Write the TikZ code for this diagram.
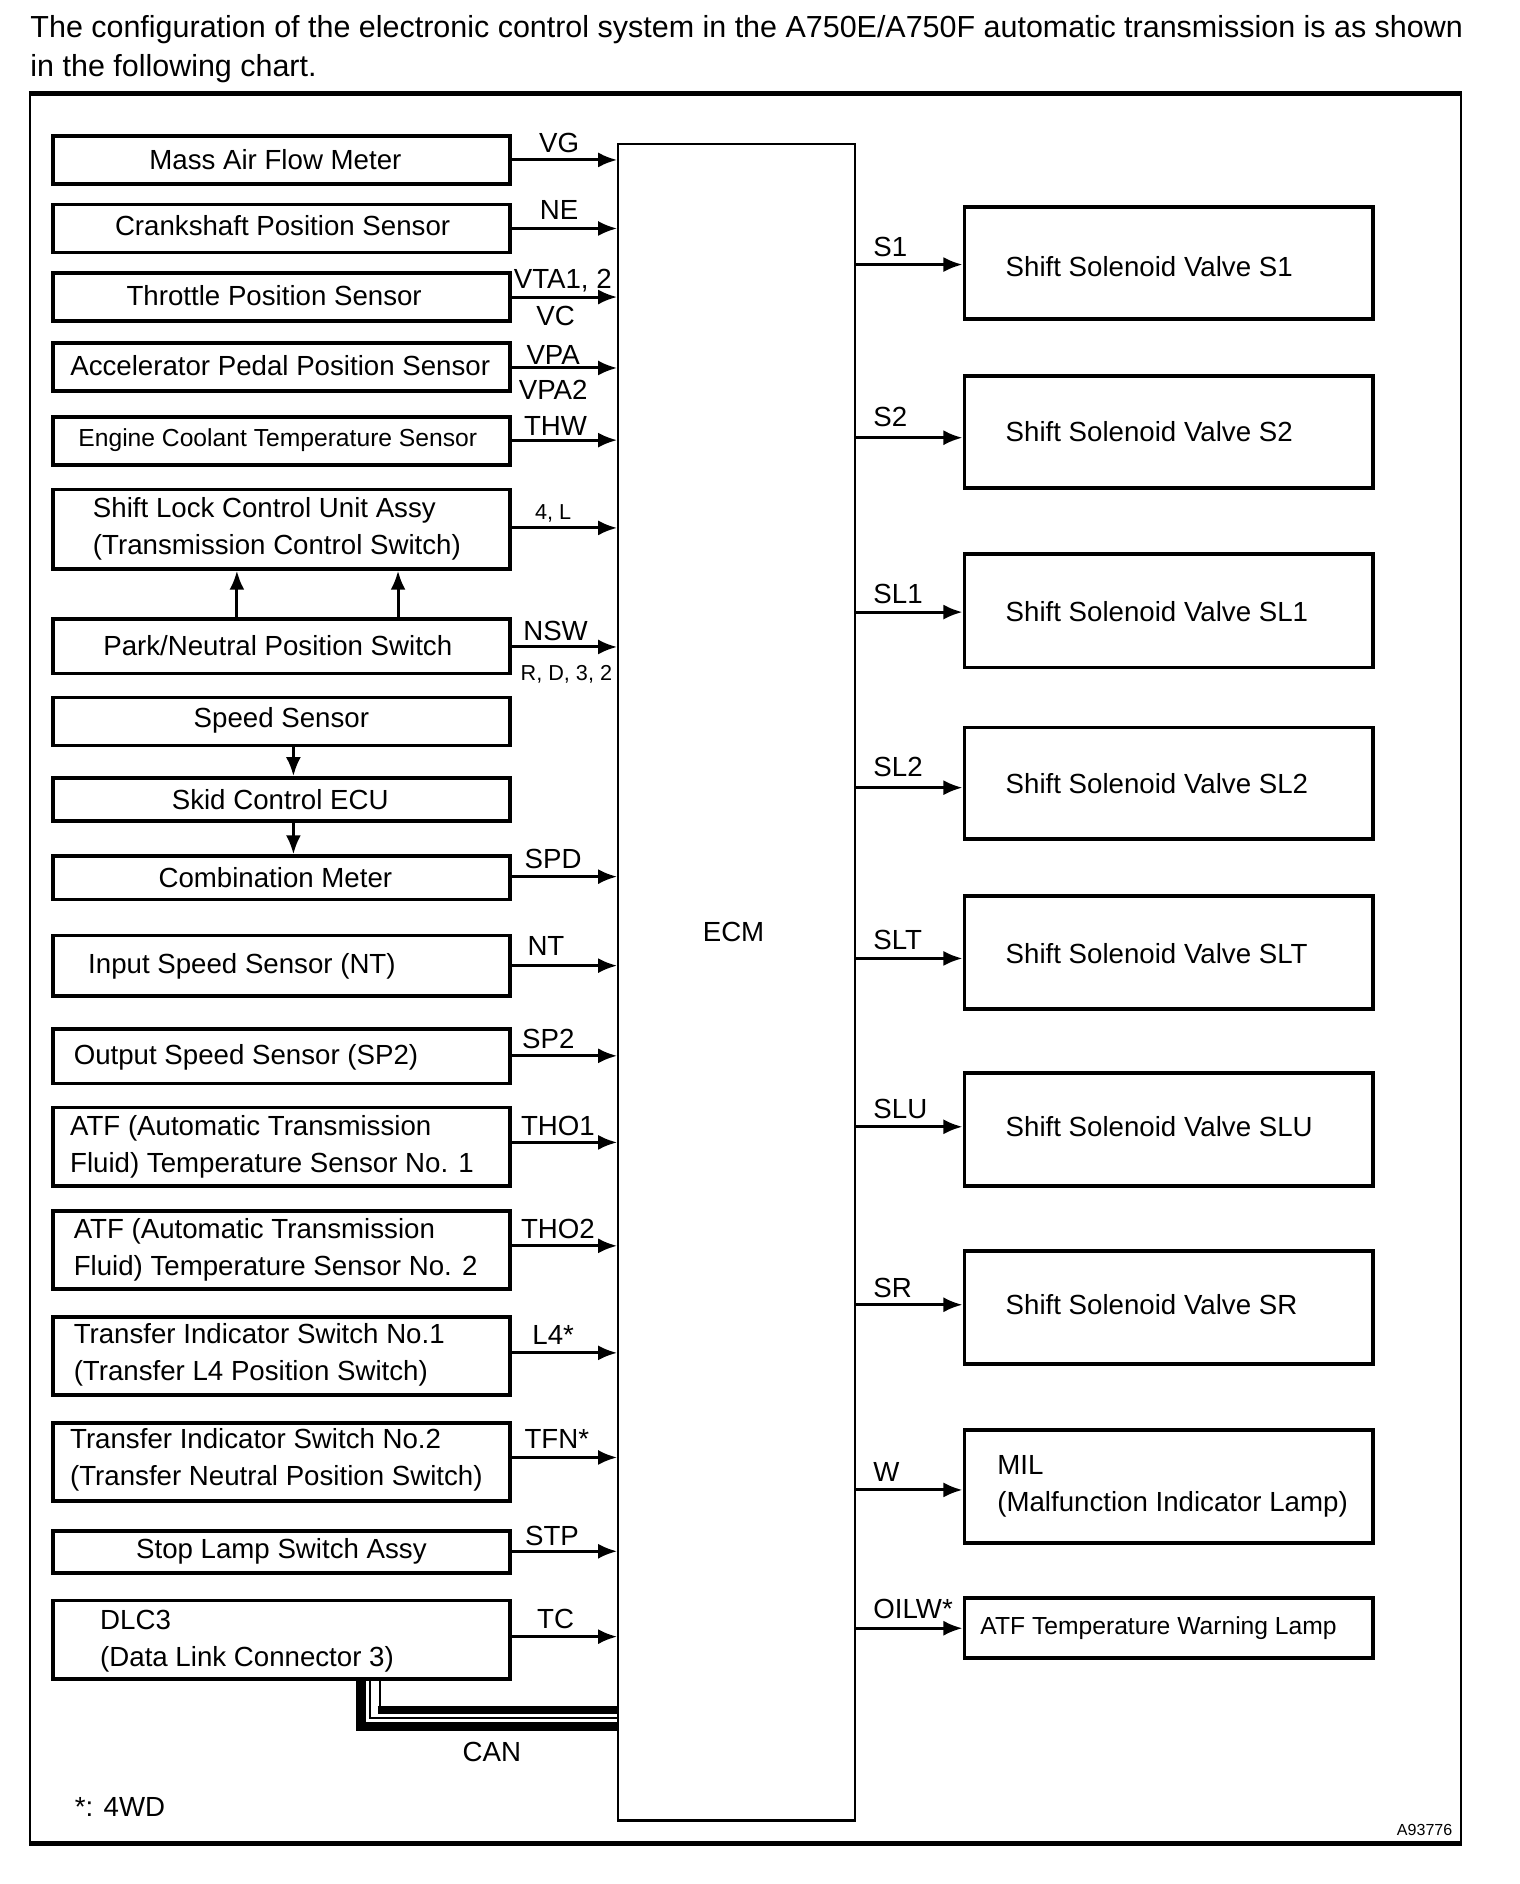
\documentclass[tikz,border=0pt]{standalone}
\usepackage{fontspec}
\setmainfont{Liberation Sans}
\usetikzlibrary{arrows.meta,fit}
\begin{document}
\begin{tikzpicture}[x=0.6pt,y=-0.6pt,
  box/.style={draw,line width=1.9pt,inner sep=0pt},
  arr/.style={line width=1.5pt,-{Latex[length=9.5pt,width=7.5pt]}},
  txt/.style={font=\fontsize{13.8}{18.5}\selectfont,inner sep=0pt,align=left},
  sig/.style={font=\fontsize{13.8}{16}\selectfont,inner sep=0pt},
  smallsig/.style={font=\fontsize{10.8}{13}\selectfont,inner sep=0pt},
  midtxt/.style={font=\fontsize{12.3}{15}\selectfont,inner sep=0pt},
]
\useasboundingbox (0,0) rectangle (1264,1566.7);

% title
\node[anchor=base west,font=\fontsize{15.2}{19.8}\selectfont,inner sep=0pt] (title1) at (25,31)
  {The configuration of the electronic control system in the A750E/A750F automatic transmission is as shown};
\node[anchor=base west,font=\fontsize{15.2}{19.8}\selectfont,inner sep=0pt] (title2) at (25,64)
  {in the following chart.};

% frame
\draw[line width=1.2pt] (25,78) rectangle (1215,1533);
\draw[line width=2.4pt] (24,78) -- (1216,78);
\draw[line width=2.4pt] (24,1533) -- (1216,1533);

% ECM
\node[draw,line width=0.9pt,inner sep=0pt,fit={(514,120)(711,1513)}] (ecm) {};
\draw[line width=1.8pt] (ecm.south west) -- (ecm.south east);
\node[sig] (ecmtxt) at (610,775) {ECM};

\newcommand\inarr[2]{\coordinate (t#1) at (0,#2); \draw[arr] (#1.east |- t#1) -- (ecm.west |- t#1);}
\newcommand\outarr[2]{\coordinate (t#1) at (0,#2); \draw[arr] (ecm.east |- t#1) -- (#1.west |- t#1);}

% left boxes
\node[box,fit={(44,113)(424,153)}] (maf) {};
\node[txt] at (229,133) {Mass Air Flow Meter};
\node[box,fit={(44,170)(424,210)}] (ne) {};
\node[txt] at (235,188) {Crankshaft Position Sensor};
\node[box,fit={(44,227)(424,267)}] (tps) {};
\node[txt] at (228,246) {Throttle Position Sensor};
\node[box,fit={(44,285)(424,325)}] (apps) {};
\node[txt] at (233,304) {Accelerator Pedal Position Sensor};
\node[box,fit={(44,347)(424,387)}] (ect) {};
\node[midtxt] at (231,366) {Engine Coolant Temperature Sensor};
\node[box,fit={(44,407)(424,473)}] (slcu) {};
\node[txt,anchor=west] at (77,440) {Shift Lock Control Unit Assy\\(Transmission Control Switch)};
\node[box,fit={(44,515)(424,560)}] (pnp) {};
\node[txt] at (231,537) {Park/Neutral Position Switch};
\node[box,fit={(44,580)(424,620)}] (spd) {};
\node[txt] at (234,599) {Speed Sensor};
\node[box,fit={(44,647)(424,683)}] (skid) {};
\node[txt] at (233,665) {Skid Control ECU};
\node[box,fit={(44,712)(424,748)}] (comb) {};
\node[txt] at (229,730) {Combination Meter};
\node[box,fit={(44,778)(424,828)}] (nt) {};
\node[txt,anchor=west] at (73,804) {Input Speed Sensor (NT)};
\node[box,fit={(44,856)(424,901)}] (sp2) {};
\node[txt,anchor=west] at (61,879) {Output Speed Sensor (SP2)};
\node[box,fit={(44,921)(424,986)}] (tho1) {};
\node[txt,anchor=west] at (58,954) {ATF (Automatic Transmission\\Fluid) Temperature Sensor No. 1};
\node[box,fit={(44,1007)(424,1072)}] (tho2) {};
\node[txt,anchor=west] at (61,1039) {ATF (Automatic Transmission\\Fluid) Temperature Sensor No. 2};
\node[box,fit={(44,1095)(424,1160)}] (l4) {};
\node[txt,anchor=west] at (61,1127) {Transfer Indicator Switch No.1\\(Transfer L4 Position Switch)};
\node[box,fit={(44,1183)(424,1248)}] (tfn) {};
\node[txt,anchor=west] at (58,1214) {Transfer Indicator Switch No.2\\(Transfer Neutral Position Switch)};
\node[box,fit={(44,1273)(424,1308)}] (stp) {};
\node[txt] at (234,1290) {Stop Lamp Switch Assy};
\node[box,fit={(44,1331)(424,1396)}] (dlc) {};
\node[txt,anchor=west] at (83,1365) {DLC3\\(Data Link Connector 3)};

% input arrows
\inarr{maf}{133}
\inarr{ne}{190}
\inarr{tps}{247}
\inarr{apps}{306}
\inarr{ect}{366}
\inarr{slcu}{439}
\inarr{pnp}{538}
\inarr{comb}{729}
\inarr{nt}{803}
\inarr{sp2}{878}
\inarr{tho1}{950}
\inarr{tho2}{1036}
\inarr{l4}{1125}
\inarr{tfn}{1212}
\inarr{stp}{1290}
\inarr{dlc}{1361}

% vertical arrows
\coordinate (va) at (197,0);
\coordinate (vb) at (331,0);
\coordinate (vc) at (244,0);
\draw[arr] (pnp.north -| va) -- (slcu.south -| va);
\draw[arr] (pnp.north -| vb) -- (slcu.south -| vb);
\draw[arr] (spd.south -| vc) -- (skid.north -| vc);
\draw[arr] (skid.south -| vc) -- (comb.north -| vc);

% input labels
\node[sig] at (465,119) {VG};
\node[sig] at (465,175) {NE};
\node[sig] at (468,233) {VTA1, 2};
\node[sig] at (462,263) {VC};
\node[sig] at (460,295) {VPA};
\node[sig] at (460,324) {VPA2};
\node[sig] at (462,354) {THW};
\node[smallsig] at (460,427) {4, L};
\node[sig] at (462,525) {NSW};
\node[smallsig] at (471,561) {R, D, 3, 2};
\node[sig] at (460,714) {SPD};
\node[sig] at (454,787) {NT};
\node[sig] at (456,864) {SP2};
\node[sig] at (464,936) {THO1};
\node[sig] at (464,1022) {THO2};
\node[sig] at (460,1110) {L4*};
\node[sig] at (463,1197) {TFN*};
\node[sig] at (459,1277) {STP};
\node[sig] at (462,1346) {TC};

% right boxes
\node[box,fit={(802,172)(1142,265)}] (s1) {};
\node[txt,anchor=west] at (836,222) {Shift Solenoid Valve S1};
\node[box,fit={(802,313)(1142,406)}] (s2) {};
\node[txt,anchor=west] at (836,359) {Shift Solenoid Valve S2};
\node[box,fit={(802,461)(1142,555)}] (sl1) {};
\node[txt,anchor=west] at (836,509) {Shift Solenoid Valve SL1};
\node[box,fit={(802,605)(1142,698)}] (sl2) {};
\node[txt,anchor=west] at (836,652) {Shift Solenoid Valve SL2};
\node[box,fit={(802,745)(1142,839)}] (slt) {};
\node[txt,anchor=west] at (836,793) {Shift Solenoid Valve SLT};
\node[box,fit={(802,892)(1142,986)}] (slu) {};
\node[txt,anchor=west] at (836,937) {Shift Solenoid Valve SLU};
\node[box,fit={(802,1040)(1142,1134)}] (sr) {};
\node[txt,anchor=west] at (836,1085) {Shift Solenoid Valve SR};
\node[box,fit={(802,1189)(1142,1283)}] (mil) {};
\node[txt,anchor=west] at (829,1236) {MIL\\(Malfunction Indicator Lamp)};
\node[box,fit={(802,1329)(1142,1379)}] (atf) {};
\node[midtxt,anchor=west] at (815,1354) {ATF Temperature Warning Lamp};

% output arrows
\outarr{s1}{220}
\outarr{s2}{364}
\outarr{sl1}{509}
\outarr{sl2}{655}
\outarr{slt}{797}
\outarr{slu}{937}
\outarr{sr}{1085}
\outarr{mil}{1239}
\outarr{atf}{1354}

% output labels
\node[sig,anchor=west] at (726,205) {S1};
\node[sig,anchor=west] at (726,347) {S2};
\node[sig,anchor=west] at (726,494) {SL1};
\node[sig,anchor=west] at (726,638) {SL2};
\node[sig,anchor=west] at (726,782) {SLT};
\node[sig,anchor=west] at (726,922) {SLU};
\node[sig,anchor=west] at (726,1071) {SR};
\node[sig,anchor=west] at (726,1224) {W};
\node[sig,anchor=west] at (726,1338) {OILW*};

% CAN bus
\coordinate (cx1) at (300.2,0);
\coordinate (cy1) at (0,1436);
\coordinate (cx2) at (307.3,0);
\coordinate (cy2) at (0,1428.5);
\coordinate (cx3) at (316,0);
\coordinate (cy3) at (0,1422);
\draw[line width=4.5pt,miter limit=10] (dlc.south -| cx1) -- (cx1 |- cy1) -- (ecm.west |- cy1);
\draw[line width=1pt] (dlc.south -| cx2) -- (cx2 |- cy2) -- (ecm.west |- cy2);
\draw[line width=1pt] (dlc.south -| cx3) -- (cx3 |- cy3);
\draw[line width=4.2pt] ([xshift=-1.2pt]cx3 |- cy3) -- (ecm.west |- cy3);
\node[sig] (can) at (409,1457) {CAN};

% notes
\node[sig,anchor=west] (note) at (62,1503) {*: 4WD};
\node[font=\fontsize{8}{10}\selectfont,inner sep=0pt,anchor=east] (code) at (1208,1522) {A93776};
\end{tikzpicture}
\end{document}
